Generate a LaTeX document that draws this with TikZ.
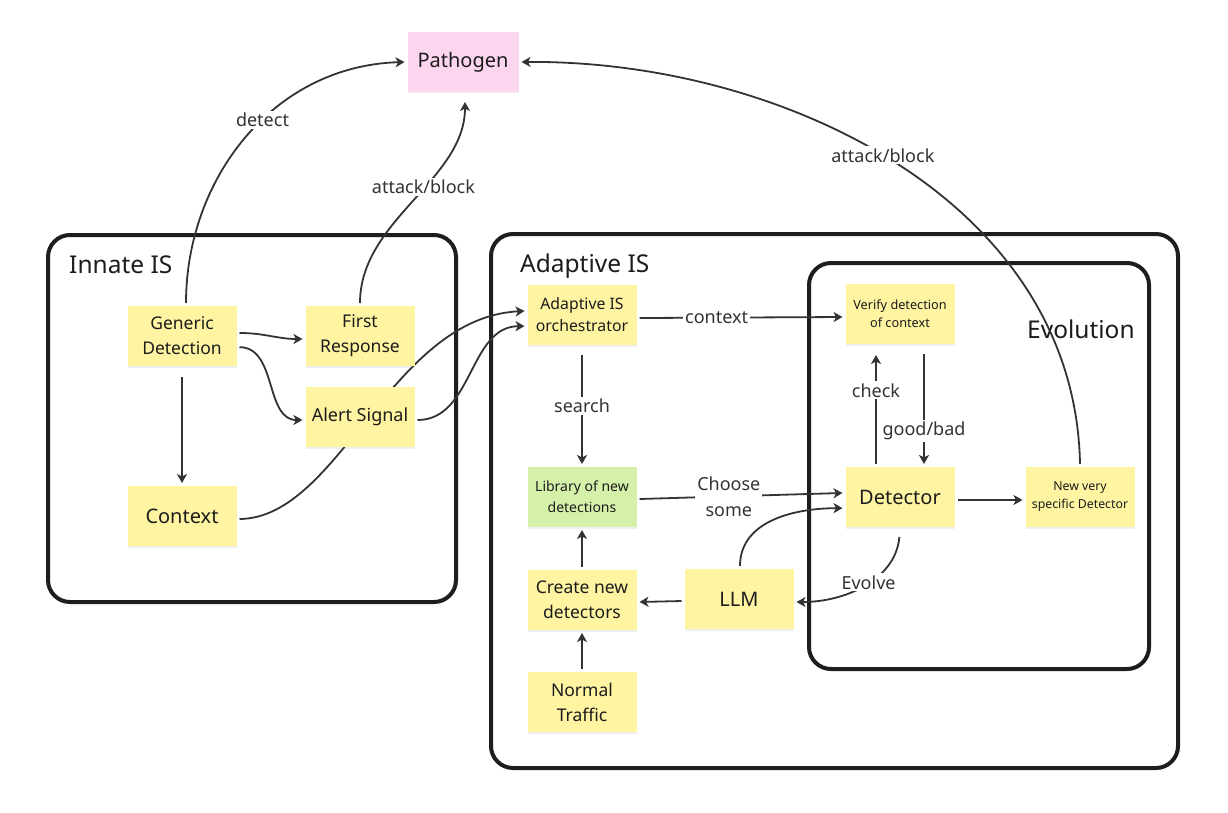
\documentclass[tikz,border=0pt]{standalone}
\usepackage{fontspec}
\setmainfont{Noto Sans}
\usetikzlibrary{arrows.meta,calc,shadows}
\definecolor{noteY}{HTML}{FEF4A2}
\definecolor{noteG}{HTML}{D5F0A9}
\definecolor{noteP}{HTML}{FCD6EF}
\definecolor{ink}{HTML}{333333}
\definecolor{framec}{HTML}{1E1E1E}
\definecolor{txt}{HTML}{1C1C1C}
\pgfdeclarelayer{bg}
\pgfdeclarelayer{edges}
\pgfsetlayers{bg,edges,main}
\newcommand{\fs}[2]{\fontsize{#1}{#2}\selectfont}
\begin{document}
\begin{tikzpicture}[x=1pt,y=-1pt,
  note/.style={fill=noteY, minimum width=109pt, minimum height=60pt, inner sep=2pt,
    align=center, text=txt, outer sep=3pt,
    drop shadow={shadow xshift=0pt,shadow yshift=-1.5pt,opacity=0.12}},
  big/.style={font=\fs{20}{24}},
  mid/.style={font=\fs{17.5}{25}},
  small/.style={font=\fs{12.7}{18}},
  frame/.style={draw=framec, line width=4pt, rounded corners=22pt},
  ftitle/.style={anchor=base west, inner sep=0pt, text=txt, font=\fs{24.5}{28}},
  conn/.style={draw=ink, line width=1.8pt, -{Stealth[length=9pt,width=10pt,inset=2.5pt]}},
  lbl/.style={fill=white, inner sep=2pt, text=ink, font=\fs{18}{26}, align=center},
]
\useasboundingbox (0,0) rectangle (1228,813);

% frames
\begin{pgfonlayer}{bg}
\fill[white] (0,0) rectangle (1228,813);
\draw[frame] (48,235) rectangle (456,602);
\draw[frame] (491,234) rectangle (1178,768);
\draw[frame] (809,263) rectangle (1149,669);
\node[ftitle] (tinnate) at (69,273) {Innate IS};
\node[ftitle] (tadapt) at (520,272) {Adaptive IS};
\node[ftitle] (tevol) at (1027,338) {Evolution};
\end{pgfonlayer}

% notes
\node[note, fill=noteP, minimum width=111pt, big] (pg) at (463,62) {Pathogen};
\node[note, mid] (gd) at (182,336) {Generic\\Detection};
\node[note, mid] (fr) at (360,336) {First\\Response};
\node[note, font=\fs{18}{24}] (as) at (360,417) {Alert Signal};
\node[note, big] (ctx) at (182,516) {Context};
\node[note, font=\fs{15.8}{22}] (or) at (582,315) {Adaptive IS\\orchestrator};
\node[note, fill=noteG, font=\fs{14}{21}] (lib) at (582,497) {Library of new\\detections};
\node[note, mid] (cr) at (582,600) {Create new\\detectors};
\node[note, mid] (nt) at (582,702) {Normal\\Traffic};
\node[note, big] (llm) at (739,599) {LLM};
\node[note, small] (ver) at (900,314) {Verify detection\\of context};
\node[note, big] (det) at (900,497) {Detector};
\node[note, font=\fs{12.3}{18}] (nv) at (1080,497) {New very\\specific Detector};

% connectors
\begin{pgfonlayer}{edges}
\draw[conn] ([xshift=4pt]gd.north) .. controls (186,180) and (272,66) .. (pg.west)
  node[lbl,pos=0.57] {detect};
\draw[conn, shorten >=7pt] (fr.north) .. controls (360,220) and (465,180) .. ([xshift=2pt]pg.south)
  node[lbl,pos=0.57] {attack/block};
\draw[conn] (nv.north) .. controls (1075,200) and (780,60) .. (pg.east)
  node[lbl,pos=0.52] {attack/block};
\draw[conn] (gd.3) to[out=0,in=180] (fr.183);
\draw[conn] (gd.-11) to[out=0,in=180] (as.183);
\draw[conn, shorten <=8pt] (gd.south) -- (ctx.north);
\draw[conn] (ctx.-3) .. controls (340,518) and (390,318) .. (or.176);
\draw[conn] (as.-3) to[out=0,in=180] (or.191);
\draw[conn] (or.-3) -- (ver.183) node[lbl,pos=0.38] {context};
\draw[conn, shorten <=7pt] (or.south) -- (lib.north) node[lbl,midway] {search};
\draw[conn] (lib.-2) -- (det.176) node[lbl,pos=0.44] {Choose\\some};
\draw[conn] ([xshift=1pt]llm.north) to[out=90,in=180] (det.191);
\draw[conn, shorten >=8pt] ([xshift=-24pt]det.north) -- ([xshift=-24pt]ver.south)
  node[lbl,pos=0.63] {check};
\draw[conn, shorten <=7pt] ([xshift=24pt]ver.south) -- ([xshift=24pt]det.north)
  node[lbl,pos=0.72] {good/bad};
\draw[conn] (det.-3) -- (nv.183);
\draw[conn, shorten <=7pt] (det.south) to[out=-95,in=0]
  node[lbl,pos=0.47] {Evolve} (llm.-3);
\draw[conn] (llm.182) -- (cr.-2);
\draw[conn] (cr.north) -- (lib.south);
\draw[conn] (nt.north) -- (cr.south);
\end{pgfonlayer}
\end{tikzpicture}
\end{document}
